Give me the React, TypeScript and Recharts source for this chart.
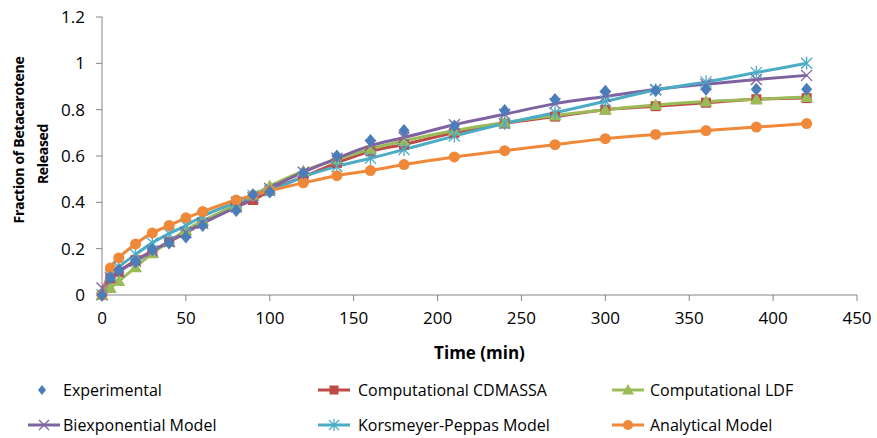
import React from "react";
import { LineChart, Line, XAxis, YAxis, Label } from "recharts";

// time points (min)
const times = [0, 5, 10, 20, 30, 40, 50, 60, 80, 90, 100, 120, 140, 160, 180, 210, 240, 270, 300, 330, 360, 390, 420];

const experimental = [0, 0.074, 0.108, 0.143, 0.195, 0.225, 0.25, 0.3, 0.365, 0.433, 0.445, 0.527, 0.6, 0.667, 0.71, 0.73, 0.796, 0.844, 0.88, 0.883, 0.888, 0.888, 0.888];
const cdmassa = [0, 0.07, 0.1, 0.15, 0.19, 0.23, 0.27, 0.31, 0.38, 0.41, 0.45, 0.51, 0.57, 0.62, 0.65, 0.7, 0.74, 0.77, 0.8, 0.815, 0.83, 0.845, 0.85];
const ldf = [0, 0.03, 0.06, 0.12, 0.18, 0.23, 0.28, 0.32, 0.39, 0.43, 0.47, 0.535, 0.585, 0.63, 0.665, 0.71, 0.745, 0.775, 0.8, 0.82, 0.835, 0.845, 0.855];
const biexp = [0.03, 0.075, 0.1, 0.145, 0.19, 0.23, 0.27, 0.31, 0.38, 0.42, 0.46, 0.53, 0.59, 0.645, 0.68, 0.735, 0.78, 0.826, 0.857, 0.887, 0.91, 0.93, 0.948];
const peppas = [0, 0.085, 0.12, 0.175, 0.225, 0.265, 0.3, 0.34, 0.4, 0.43, 0.45, 0.51, 0.555, 0.59, 0.628, 0.686, 0.74, 0.787, 0.836, 0.885, 0.92, 0.96, 1.0];
const analytical = [0, 0.117, 0.16, 0.22, 0.268, 0.3, 0.333, 0.36, 0.41, 0.43, 0.45, 0.484, 0.515, 0.537, 0.563, 0.596, 0.623, 0.649, 0.675, 0.693, 0.71, 0.725, 0.74];

const xTicks = [0, 50, 100, 150, 200, 250, 300, 350, 400, 450];
const yTicks = [0, 0.2, 0.4, 0.6, 0.8, 1, 1.2];

const data = times.map((t, i) => ({
  t,
  experimental: experimental[i],
  cdmassa: cdmassa[i],
  ldf: ldf[i],
  biexp: biexp[i],
  peppas: peppas[i],
  analytical: analytical[i],
}));

const FONT = "'Open Sans', sans-serif";

const series = [
  { key: "experimental", name: "Experimental", color: "#4A7EBB", shape: "diamond", line: false },
  { key: "cdmassa", name: "Computational CDMASSA", color: "#BE4B48", shape: "square", line: true },
  { key: "ldf", name: "Computational LDF", color: "#9BBB59", shape: "triangle", line: true },
  { key: "biexp", name: "Biexponential Model", color: "#7F63A1", shape: "cross", line: true },
  { key: "peppas", name: "Korsmeyer-Peppas Model", color: "#4BACC6", shape: "star", line: true },
  { key: "analytical", name: "Analytical Model", color: "#F0883A", shape: "circle", line: true },
];

const Marker = ({ cx, cy, shape, color, s = 5 }) => {
  if (cx == null || cy == null) return null;
  switch (shape) {
    case "diamond":
      return <polygon points={`${cx},${cy - s - 1} ${cx + s},${cy} ${cx},${cy + s + 1} ${cx - s},${cy}`} fill={color} />;
    case "square":
      return <rect x={cx - s + 0.5} y={cy - s + 0.5} width={2 * s - 1} height={2 * s - 1} fill={color} />;
    case "triangle":
      return <polygon points={`${cx},${cy - s - 1} ${cx + s + 1},${cy + s - 0.5} ${cx - s - 1},${cy + s - 0.5}`} fill={color} />;
    case "cross":
      return (
        <g stroke={color} strokeWidth={1.3}>
          <line x1={cx - s} y1={cy - s} x2={cx + s} y2={cy + s} />
          <line x1={cx - s} y1={cy + s} x2={cx + s} y2={cy - s} />
        </g>
      );
    case "star":
      return (
        <g stroke={color} strokeWidth={1.3}>
          <line x1={cx - s} y1={cy - s} x2={cx + s} y2={cy + s} />
          <line x1={cx - s} y1={cy + s} x2={cx + s} y2={cy - s} />
          <line x1={cx} y1={cy - s - 1} x2={cx} y2={cy + s + 1} />
        </g>
      );
    default:
      return <circle cx={cx} cy={cy} r={s} fill={color} />;
  }
};

const YTitle = ({ viewBox }) => {
  const x = viewBox.x;
  return (
    <g fontFamily={FONT} fontWeight="bold" fontSize={14} fill="#000" letterSpacing={-0.3}>
      <text x={x + 18} y={140} transform={`rotate(-90 ${x + 18} 140)`} textAnchor="middle" dominantBaseline="central">
        Fraction of Betacarotene
      </text>
      <text x={x + 42} y={154} transform={`rotate(-90 ${x + 42} 154)`} textAnchor="middle" dominantBaseline="central">
        Released
      </text>
    </g>
  );
};

const XTitle = ({ viewBox }) => (
  <text
    x={viewBox.x + viewBox.width / 2}
    y={viewBox.y + 57}
    textAnchor="middle"
    dominantBaseline="central"
    fontFamily={FONT}
    fontWeight="bold"
    fontSize={17}
    fill="#000"
  >
    Time (min)
  </text>
);

// legend rows / columns (icon start, text start)
const legendCols = [28, 318, 612];
const legendTextCols = [63, 358, 650];
const legendRows = [390, 425];

const LegendIcon = ({ item }) => (
  <svg width={34} height={16} style={{ position: "absolute", left: 0, top: -8 }}>
    {item.line && <line x1={0} y1={8} x2={32} y2={8} stroke={item.color} strokeWidth={3} />}
    <Marker cx={item.line ? 16 : 14} cy={8} shape={item.shape} color={item.color} s={item.shape === "diamond" ? 4 : 5} />
  </svg>
);

export default function App() {
  return (
    <div style={{ position: "absolute", left: 0, top: 0, width: 877, height: 438, background: "#fff" }}>
      <LineChart width={877} height={438} data={data} margin={{ top: 17, right: 20, left: 0, bottom: 73 }}>
        <XAxis
          dataKey="t"
          type="number"
          domain={[0, 450]}
          ticks={xTicks}
          height={70}
          stroke="#868686"
          tickSize={6}
          tickMargin={11}
          tick={{ fill: "#000", fontSize: 17, fontFamily: FONT }}
        >
          <Label content={XTitle} />
        </XAxis>
        <YAxis
          type="number"
          domain={[0, 1.2]}
          ticks={yTicks}
          width={102}
          stroke="#868686"
          tickSize={6}
          tickMargin={11}
          tick={{ fill: "#000", fontSize: 17, fontFamily: FONT }}
        >
          <Label content={YTitle} />
        </YAxis>
        {[...series.slice(1), series[0]].map((s) => (
          <Line
            key={s.key}
            dataKey={s.key}
            name={s.name}
            type="monotone"
            stroke={s.line ? s.color : "none"}
            strokeWidth={3}
            isAnimationActive={false}
            dot={(p) => (
              <Marker
                key={`${s.key}-${p.index}`}
                cx={p.cx}
                cy={p.cy}
                shape={s.shape}
                color={s.color}
                s={5.5}
              />
            )}
            activeDot={false}
          />
        ))}
      </LineChart>
      {series.map((s, i) => {
        const col = i % 3;
        const row = Math.floor(i / 3);
        return (
          <div key={s.key} style={{ position: "absolute", left: legendCols[col], top: legendRows[row] }}>
            <LegendIcon item={s} />
            <span
              style={{
                position: "absolute",
                left: legendTextCols[col] - legendCols[col],
                top: -12,
                whiteSpace: "nowrap",
                fontFamily: FONT,
                fontSize: 16,
                lineHeight: "24px",
                color: "#000",
              }}
            >
              {s.name}
            </span>
          </div>
        );
      })}
    </div>
  );
}
